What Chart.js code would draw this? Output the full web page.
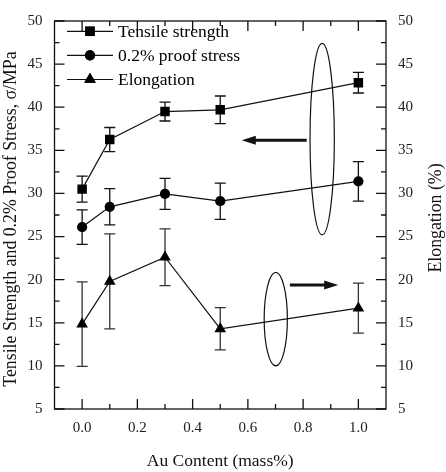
<!DOCTYPE html>
<html>
<head>
<meta charset="utf-8">
<script src="https://cdn.jsdelivr.net/npm/chart.js@4.4.0/dist/chart.umd.min.js"></script>
<style>
  html, body { margin: 0; padding: 0; background: #fff; }
</style>
</head>
<body>
<canvas id="chart" width="446" height="472"></canvas>
<script>
// Au content (mass%)
var auContent = [0.0, 0.1, 0.3, 0.5, 1.0];

// series values and their error bars
var tensile = [30.5, 36.25, 39.5, 39.7, 42.85];
var tensileErr = [1.5, 1.4, 1.1, 1.6, 1.2];
var proof = [26.1, 28.45, 29.95, 29.1, 31.4];
var proofErr = [2.0, 2.1, 1.8, 2.1, 2.3];
var elong = [14.85, 19.8, 22.6, 14.3, 16.7];
var elongErr = [4.9, 5.5, 3.3, 2.45, 2.9];

// ticks
var xTickValues = [0.0, 0.2, 0.4, 0.6, 0.8, 1.0];
var xTickLabels = ['0.0', '0.2', '0.4', '0.6', '0.8', '1.0'];
var yTickValues = [5, 10, 15, 20, 25, 30, 35, 40, 45, 50];

// ovals and arrows, in data units: [x, y, rx, ry] and [x1, x2, y]
var ovalStress = [0.869, 36.3, 0.044, 11.1];
var ovalElong = [0.701, 15.43, 0.042, 5.42];
var arrowStress = [0.813, 0.578, 36.17];
var arrowElong = [0.752, 0.927, 19.39];

var serif = "'Liberation Serif', 'Times New Roman', serif";

function toPoints(ys){
    var pts = [];
    for(var i=0; i<auContent.length; i++){
        pts.push({ x: auContent[i], y: ys[i] });
    }
    return pts;
}

function fixTicks(values){
    return function(scale){
        scale.ticks = values.map(function(v){ return { value: v }; });
    };
}

var errorBars = {
    id: 'errorBars',
    beforeDatasetsDraw: function(chart){
        var ctx = chart.ctx;
        var errs = [tensileErr, proofErr, elongErr];
        ctx.save();
        ctx.lineWidth = 1.3;
        chart.data.datasets.forEach(function(ds, di){
            var ys = chart.scales[ds.yAxisID];
            var xs = chart.scales.x;
            ctx.strokeStyle = di == 2 ? '#333' : '#111';
            ds.data.forEach(function(p, i){
                var px = xs.getPixelForValue(p.x);
                var top = ys.getPixelForValue(p.y + errs[di][i]);
                var bot = ys.getPixelForValue(p.y - errs[di][i]);
                ctx.beginPath();
                ctx.moveTo(px, top); ctx.lineTo(px, bot);
                ctx.moveTo(px - 5.5, top); ctx.lineTo(px + 5.5, top);
                ctx.moveTo(px - 5.5, bot); ctx.lineTo(px + 5.5, bot);
                ctx.stroke();
            });
        });
        ctx.restore();
    }
};

var frameTicks = {
    id: 'frameTicks',
    afterDraw: function(chart){
        var ctx = chart.ctx, a = chart.chartArea;
        var xs = chart.scales.x, yl = chart.scales.y;
        ctx.save();
        ctx.strokeStyle = '#111';
        ctx.lineWidth = 1.3;
        ctx.strokeRect(a.left, a.top, a.right - a.left, a.bottom - a.top);
        ctx.beginPath();
        var i, px, len;
        for(i=0; i<xTickValues.length*2 - 1; i++){
            var xv = xTickValues[0] + i*(xTickValues[1]-xTickValues[0])/2;
            px = xs.getPixelForValue(xv);
            len = i%2 == 0 ? 10 : 5;
            ctx.moveTo(px, a.bottom); ctx.lineTo(px, a.bottom - len);
            ctx.moveTo(px, a.top); ctx.lineTo(px, a.top + len);
        }
        for(i=0; i<yTickValues.length*2 - 1; i++){
            var yv = yTickValues[0] + i*(yTickValues[1]-yTickValues[0])/2;
            px = yl.getPixelForValue(yv);
            len = i%2 == 0 ? 10 : 5;
            ctx.moveTo(a.left, px); ctx.lineTo(a.left + len, px);
            ctx.moveTo(a.right, px); ctx.lineTo(a.right - len, px);
        }
        ctx.stroke();
        ctx.restore();
    }
};

// both vertical titles read bottom to top, as in the figure
var sideTitles = {
    id: 'sideTitles',
    afterDraw: function(chart){
        var ctx = chart.ctx;
        var items = [
            [chart.options.scales.y.title.text, 11, 219],
            [chart.options.scales.y2.title.text, 436, 218]
        ];
        ctx.save();
        ctx.fillStyle = '#111';
        ctx.font = '17.8px ' + serif;
        ctx.textAlign = 'center';
        ctx.textBaseline = 'middle';
        items.forEach(function(t){
            ctx.save();
            ctx.translate(t[1], t[2]);
            ctx.rotate(-Math.PI/2);
            ctx.fillText(t[0], 0, 0);
            ctx.restore();
        });
        ctx.restore();
    }
};

function drawOval(chart, o){
    var ctx = chart.ctx, xs = chart.scales.x, ys = chart.scales.y;
    var cx = xs.getPixelForValue(o[0]), cy = ys.getPixelForValue(o[1]);
    var rx = xs.getPixelForValue(o[0] + o[2]) - cx;
    var ry = cy - ys.getPixelForValue(o[1] + o[3]);
    ctx.beginPath();
    ctx.ellipse(cx, cy, rx, ry, 0, 0, Math.PI*2);
    ctx.stroke();
}

function drawArrow(chart, r){
    var ctx = chart.ctx, xs = chart.scales.x, ys = chart.scales.y;
    var x1 = xs.getPixelForValue(r[0]), x2 = xs.getPixelForValue(r[1]);
    var y = ys.getPixelForValue(r[2]);
    var dir = x2 > x1 ? 1 : -1;
    ctx.beginPath();
    ctx.lineWidth = 3;
    ctx.moveTo(x1, y); ctx.lineTo(x2 - dir*10, y);
    ctx.stroke();
    ctx.beginPath();
    ctx.moveTo(x2, y);
    ctx.lineTo(x2 - dir*14, y - 4.5);
    ctx.lineTo(x2 - dir*14, y + 4.5);
    ctx.closePath();
    ctx.fill();
}

var notes = {
    id: 'notes',
    afterDatasetsDraw: function(chart){
        var ctx = chart.ctx;
        ctx.save();
        ctx.strokeStyle = '#111';
        ctx.fillStyle = '#111';
        ctx.lineWidth = 1.2;
        drawOval(chart, ovalStress);
        drawOval(chart, ovalElong);
        drawArrow(chart, arrowStress);
        drawArrow(chart, arrowElong);
        ctx.restore();
    }
};

var insideLegend = {
    id: 'insideLegend',
    afterDraw: function(chart){
        var ctx = chart.ctx;
        var rows = [31.3, 55.3, 79.5];
        ctx.save();
        chart.data.datasets.forEach(function(ds, i){
            var y = rows[i];
            ctx.strokeStyle = '#111';
            ctx.lineWidth = 1.2;
            ctx.beginPath();
            ctx.moveTo(67, y); ctx.lineTo(113, y);
            ctx.stroke();
            ctx.fillStyle = '#000';
            Chart.helpers.drawPoint(ctx, {
                pointStyle: ds.pointStyle, radius: ds.pointRadius, rotation: 0, borderWidth: 0
            }, 90, y);
            ctx.fill();
            ctx.font = '17.5px ' + serif;
            ctx.textBaseline = 'alphabetic';
            ctx.textAlign = 'left';
            ctx.fillText(ds.label, 118, y + 5.6);
        });
        ctx.restore();
    }
};

function series(label, ys, style, radius, axis){
    return {
        label: label,
        data: toPoints(ys),
        yAxisID: axis,
        borderColor: '#111',
        borderWidth: 1.2,
        backgroundColor: '#000',
        pointStyle: style,
        pointRadius: radius,
        pointHoverRadius: radius,
        pointBackgroundColor: '#000',
        pointBorderColor: '#000',
        pointBorderWidth: 0,
        tension: 0,
        fill: false
    };
}

var ctx = document.getElementById('chart').getContext('2d');
var myChart = new Chart(ctx, {
    type: 'line',
    data: {
        datasets: [
            series('Tensile strength', tensile, 'rect', 6.7, 'y'),
            series('0.2% proof stress', proof, 'circle', 5.1, 'y'),
            series('Elongation', elong, 'triangle', 6.7, 'y2')
        ]
    },
    options: {
        responsive: false,
        animation: false,
        devicePixelRatio: 1,
        layout: { padding: { top: 12, left: 0, right: 0, bottom: 0 } },
        plugins: { legend: { display: false }, tooltip: { enabled: false } },
        scales: {
            x: {
                type: 'linear',
                min: -0.1,
                max: 1.1,
                afterBuildTicks: fixTicks(xTickValues),
                afterFit: function(s){ s.height = 63; },
                grid: { display: false, drawTicks: false },
                border: { display: false },
                ticks: {
                    padding: 10,
                    color: '#222',
                    font: { family: serif, size: 15 },
                    callback: function(v, i){ return xTickLabels[i]; }
                },
                title: {
                    display: true,
                    text: 'Au Content (mass%)',
                    color: '#111',
                    font: { family: serif, size: 17.5 },
                    padding: { top: 0, bottom: 0 }
                }
            },
            y: {
                type: 'linear',
                position: 'left',
                min: 5,
                max: 50,
                afterBuildTicks: fixTicks(yTickValues),
                afterFit: function(s){ s.width = 54.5; },
                grid: { display: false, drawTicks: false },
                border: { display: false },
                ticks: {
                    padding: 12,
                    color: '#222',
                    font: { family: serif, size: 15 }
                },
                title: {
                    display: false,
                    text: 'Tensile Strength and 0.2% Proof Stress, \u03c3/MPa'
                }
            },
            y2: {
                type: 'linear',
                position: 'right',
                min: 5,
                max: 50,
                afterBuildTicks: fixTicks(yTickValues),
                afterFit: function(s){ s.width = 60; },
                grid: { display: false, drawTicks: false },
                border: { display: false },
                ticks: {
                    padding: 12,
                    color: '#222',
                    font: { family: serif, size: 15 }
                },
                title: {
                    display: false,
                    text: 'Elongation (%)'
                }
            }
        }
    },
    plugins: [errorBars, notes, frameTicks, sideTitles, insideLegend]
});
</script>
</body>
</html>
